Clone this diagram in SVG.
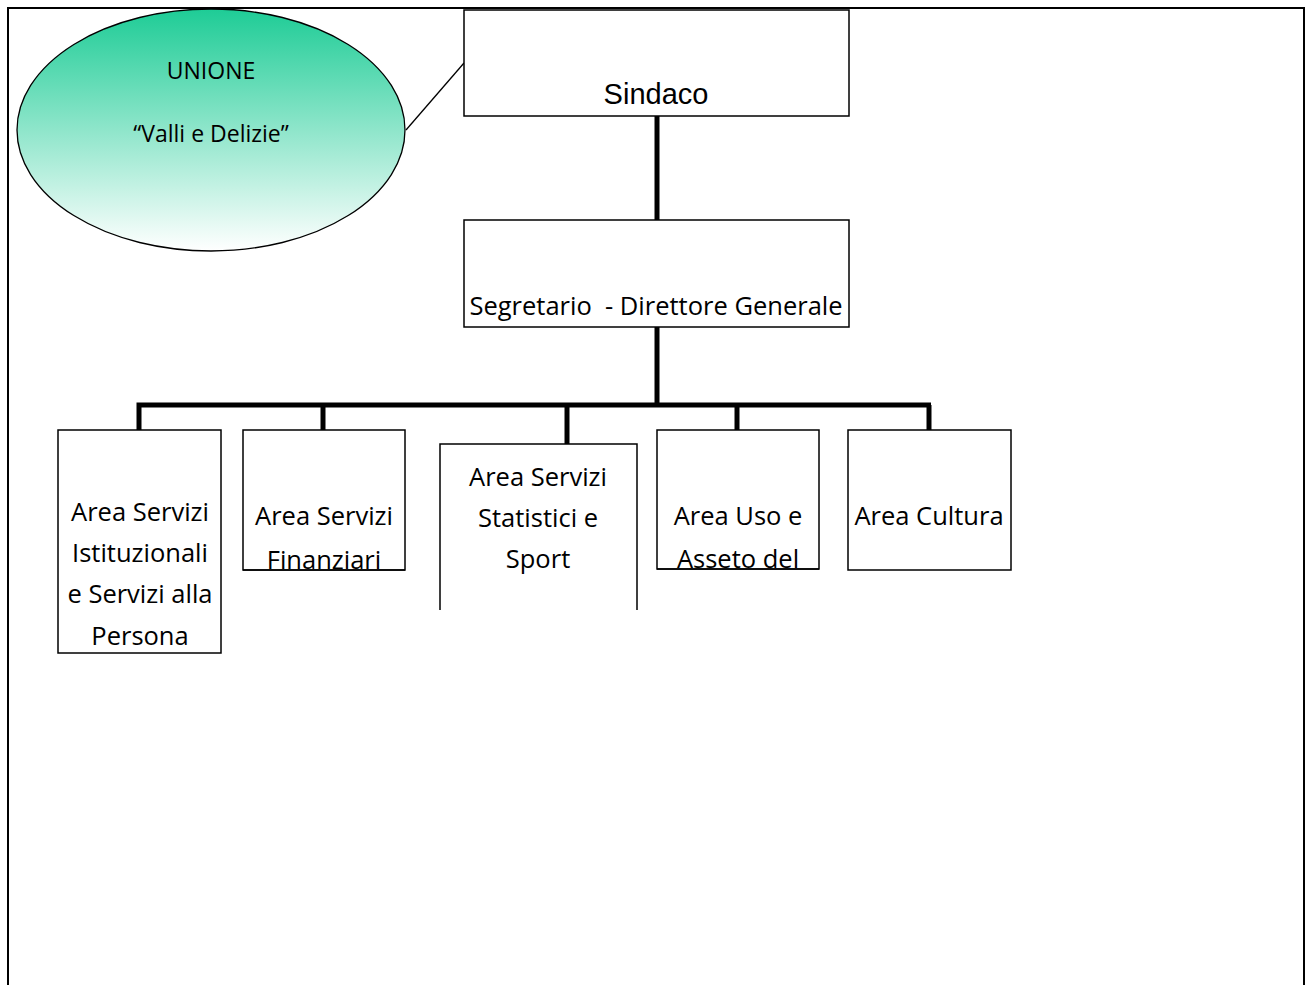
<svg xmlns="http://www.w3.org/2000/svg" width="1305" height="985" viewBox="0 0 1305 985">
<defs>
<linearGradient id="g" x1="0" y1="0" x2="0" y2="1">
<stop offset="0" stop-color="#1ECC96"/>
<stop offset="1" stop-color="#ffffff"/>
</linearGradient>
<clipPath id="c2"><rect x="243" y="430" width="162" height="140"/></clipPath>
<clipPath id="c4"><rect x="657" y="430" width="162" height="139"/></clipPath>
<style>
.box{fill:#fff;stroke:#000;stroke-width:1.5}
.t{font-family:"Open Sans","Noto Sans",sans-serif;font-size:25.5px;fill:#000;text-anchor:middle;white-space:pre}
.a{font-family:"Liberation Sans",Arial,sans-serif;font-size:29px;fill:#000;text-anchor:middle}
.conn{stroke:#000;stroke-width:5;fill:none}
</style>
</defs>
<rect x="0" y="0" width="1305" height="985" fill="#fff"/>
<path d="M8,985 V8 H1304 V985" fill="none" stroke="#000" stroke-width="2"/>
<g id="connectors">
<line x1="406" y1="130" x2="464" y2="63" stroke="#000" stroke-width="1.3"/>
<line class="conn" x1="657" y1="116" x2="657" y2="220"/>
<line class="conn" x1="657" y1="327" x2="657" y2="405"/>
<polyline class="conn" points="139,430 139,405 931,405"/>
<line class="conn" x1="323" y1="405" x2="323" y2="430"/>
<line class="conn" x1="567" y1="405" x2="567" y2="444"/>
<line class="conn" x1="737" y1="405" x2="737" y2="430"/>
<line class="conn" x1="929" y1="405" x2="929" y2="430"/>
</g>
<g id="unione">
<ellipse cx="211" cy="130" rx="194" ry="121" fill="url(#g)" stroke="#000" stroke-width="1.3"/>
<text class="t" x="211" y="79" style="font-size:23px">UNIONE</text>
<text class="t" x="211" y="142" style="font-size:23px">“Valli e Delizie”</text>
</g>
<g id="sindaco">
<rect class="box" x="464" y="10" width="385" height="106"/>
<text class="a" x="656" y="104">Sindaco</text>
</g>
<g id="segretario">
<rect class="box" x="464" y="220" width="385" height="107"/>
<text class="t" x="656" y="315" xml:space="preserve">Segretario  - Direttore Generale</text>
</g>
<g id="area1">
<rect class="box" x="58" y="430" width="163" height="223"/>
<text class="t" x="140" y="521">Area Servizi</text>
<text class="t" x="140" y="562">Istituzionali</text>
<text class="t" x="140" y="603">e Servizi alla</text>
<text class="t" x="140" y="645">Persona</text>
</g>
<g id="area2">
<rect class="box" x="243" y="430" width="162" height="140"/>
<g clip-path="url(#c2)">
<text class="t" x="324" y="525">Area Servizi</text>
<text class="t" x="324" y="569">Finanziari</text>
</g>
<line x1="243" y1="570" x2="405" y2="570" stroke="#000" stroke-width="1.5"/>
</g>
<g id="area3">
<rect x="440" y="444" width="197" height="166" fill="#fff"/>
<path d="M440,610 V444 H637 V610" fill="none" stroke="#000" stroke-width="1.5"/>
<text class="t" x="538" y="486">Area Servizi</text>
<text class="t" x="538" y="527">Statistici e</text>
<text class="t" x="538" y="568">Sport</text>
</g>
<g id="area4">
<rect class="box" x="657" y="430" width="162" height="139"/>
<g clip-path="url(#c4)">
<text class="t" x="738" y="525">Area Uso e</text>
<text class="t" x="738" y="568">Asseto del</text>
</g>
<line x1="657" y1="569" x2="819" y2="569" stroke="#000" stroke-width="1.5"/>
</g>
<g id="area5">
<rect class="box" x="848" y="430" width="163" height="140"/>
<text class="t" x="929" y="525">Area Cultura</text>
</g>
</svg>
